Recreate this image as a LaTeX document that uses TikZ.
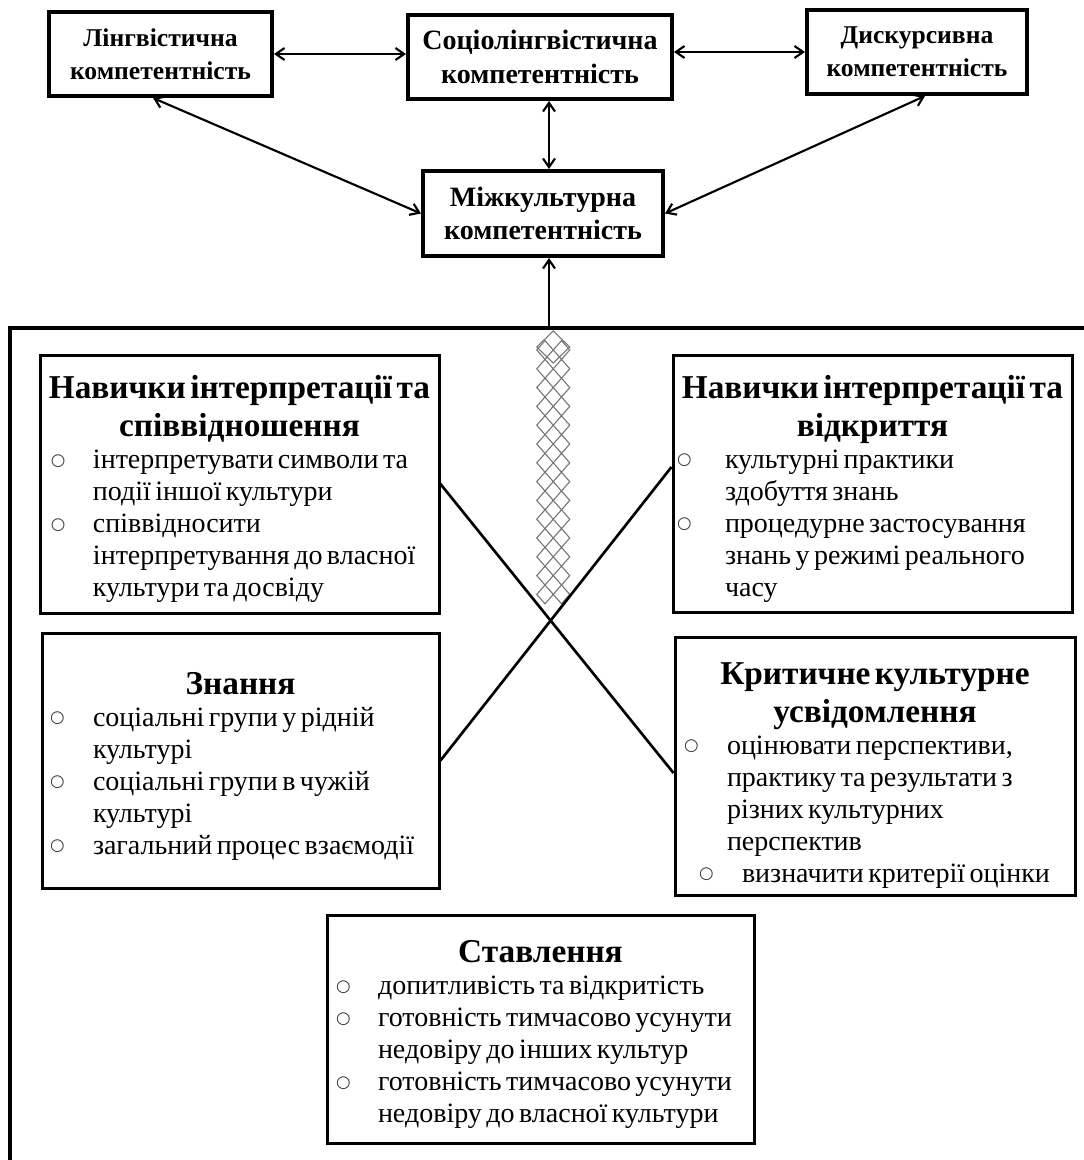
\documentclass[tikz,border=0pt]{standalone}
\usepackage{fontspec}
\setmainfont{Liberation Serif}
\newfontfamily\symfont{DejaVu Sans}
\usetikzlibrary{arrows.meta}
\newdimen\px \px=0.75pt
\newcommand\ttl[2][25pt]{{\centering\fontsize{25}{28.5}\selectfont\bfseries\rule{0pt}{#1}#2\par}}
\newcommand\bodyfont{\raggedright\fontsize{21}{24}\selectfont}
\newcommand\bl[2]{\makebox[#2\px][l]{\hspace*{#1\px}\raisebox{2.4pt}{\symfont\fontsize{12.5}{12.5}\selectfont\color{black!80}○}}}
\newcommand\ct[1]{\hspace*{#1\px}}
\tikzset{
  topbox/.style={draw, line width=3pt, fill=white, inner sep=0pt, align=center,
    font=\fontsize{21}{25}\selectfont\bfseries},
  smalltop/.style={font=\fontsize{19.2}{25}\selectfont\bfseries},
  lowbox/.style={draw, line width=2.25pt, fill=white, inner sep=0pt},
  arr/.style={line width=1.6pt, {Straight Barb[length=6.5pt,width=9pt]}-{Straight Barb[length=6.5pt,width=9pt]}},
  arrone/.style={line width=1.6pt, -{Straight Barb[length=6.5pt,width=9pt]}},
  crossline/.style={line width=2pt},
  chainline/.style={draw=black!55, line width=0.8pt},
  frameline/.style={line width=2.3pt}
}
\begin{document}
\begin{tikzpicture}[x=0.75pt,y=-0.75pt]
\path[use as bounding box, fill=white] (0,0) rectangle (1084,1160);

% frame
\draw[frameline] (1084,328) -- (10,328) -- (10,1162);

% top boxes
\node[topbox, smalltop, minimum width=223\px, minimum height=84\px] (ling) at (160.5,54) {Лінгвістична\\компетентність};
\node[topbox, minimum width=264\px, minimum height=84\px] (socio) at (540,57) {Соціолінгвістична\\компетентність};
\node[topbox, smalltop, minimum width=220\px, minimum height=84\px] (disc) at (917,52) {Дискурсивна\\компетентність};
\node[topbox, minimum width=240\px, minimum height=85\px] (mizh) at (543,213.5) {Міжкультурна\\компетентність};

\draw[arr] (ling.east) -- (ling.east -| socio.west);
\draw[arr] (disc.west -| socio.east) -- (disc.west);
\coordinate (s1) at ([xshift=6.75pt]socio.south);
\coordinate (m1) at (s1 |- mizh.north);
\draw[arr] (s1) -- (m1);
\draw[arr] ([xshift=-5.6pt]ling.south) -- (mizh.west);
\draw[arr] ([xshift=6pt]disc.south) -- (mizh.east);
\coordinate (ftop) at (549,328);
\draw[arrone] (ftop) -- (ftop |- mizh.south);

% diamond chain (trellis)
\draw[chainline] (553.25,331) -- ++(16.5,16) -- ++(-16.5,16) -- ++(-16.5,-16) -- cycle;
\foreach \k in {0,...,13}{
  \draw[chainline] (545,{340.6+18.8*\k}) -- ++(8.25,9.4) -- ++(-8.25,9.4) -- ++(-8.25,-9.4) -- cycle;
  \draw[chainline] (561.5,{340.6+18.8*\k}) -- ++(8.25,9.4) -- ++(-8.25,9.4) -- ++(-8.25,-9.4) -- cycle;
}

% lower boxes
\node[lowbox, minimum width=399\px, minimum height=258\px, text width=399\px] (A) at (239.5,484) {%
\ttl{Навички інтерпретації та\\співвідношення}\bodyfont
\bl{11}{53}інтерпретувати символи та\\
\ct{53}події іншої культури\\
\bl{11}{53}співвідносити\\
\ct{53}інтерпретування до власної\\
\ct{53}культури та досвіду\par};

\node[lowbox, minimum width=399\px, minimum height=257\px, text width=399\px] (B) at (872.5,483.5) {%
\ttl{Навички інтерпретації та\\відкриття}\bodyfont
\bl{4}{52}культурні практики\\
\ct{52}здобуття знань\\
\bl{4}{52}процедурне застосування\\
\ct{52}знань у режимі реального\\
\ct{52}часу\par};

\node[lowbox, minimum width=397\px, minimum height=255\px, text width=397\px] (C) at (240.5,760.5) {%
\ttl{Знання}\bodyfont
\bl{8}{51}соціальні групи у рідній\\
\ct{51}культурі\\
\bl{8}{51}соціальні групи в чужій\\
\ct{51}культурі\\
\bl{8}{51}загальний процес взаємодії\par};

\node[lowbox, minimum width=400\px, minimum height=258\px, text width=400\px] (D) at (875,766) {%
\ttl[30pt]{Критичне культурне\\усвідомлення}\bodyfont
\bl{9}{52}оцінювати перспективи,\\
\ct{52}практику та результати з\\
\ct{52}різних культурних\\
\ct{52}перспектив\\
\bl{24}{67}визначити критерії оцінки\par};

\node[lowbox, minimum width=427\px, minimum height=228\px, text width=427\px] (E) at (540.5,1029) {%
\ttl{Ставлення}\bodyfont
\bl{9}{51}допитливість та відкритість\\
\bl{9}{51}готовність тимчасово усунути\\
\ct{51}недовіру до інших культур\\
\bl{9}{51}готовність тимчасово усунути\\
\ct{51}недовіру до власної культури\par};

% cross lines
\draw[crossline] (A.east) -- ([yshift=-5.25pt]D.west);
\draw[crossline] (C.east) -- ([yshift=12.4pt]B.west);
\end{tikzpicture}
\end{document}
